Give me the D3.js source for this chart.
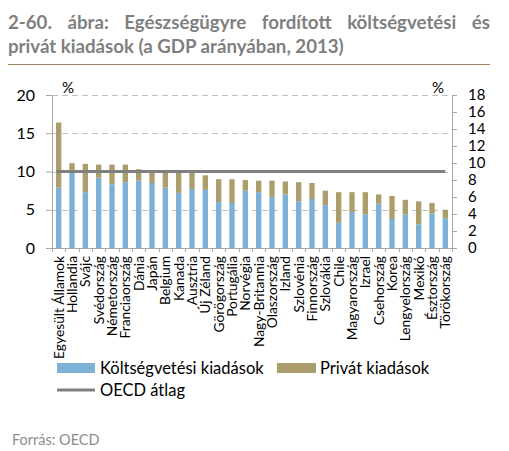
<!DOCTYPE html>
<html><head><meta charset="utf-8">
<script src="https://cdn.jsdelivr.net/npm/d3@7/dist/d3.min.js"></script>
<style>
html,body{margin:0;padding:0;background:#fff;}
svg{display:block;font-family:Lato,"Open Sans",sans-serif;}
</style></head>
<body>
<script>
const countries = ["Egyesült Államok","Hollandia","Svájc","Svédország","Németország","Franciaország","Dánia","Japán","Belgium","Kanada","Ausztria","Új Zéland","Görögország","Portugália","Norvégia","Nagy-Britannia","Olaszország","Izland","Szlovénia","Finnország","Szlovákia","Chile","Magyarország","Izrael","Csehország","Korea","Lengyelország","Mexikó","Észtország","Törökország"];
const publicSpend = [7.9,9.8,7.3,9.2,8.3,8.6,8.8,8.5,7.9,7.2,7.7,7.6,6.0,5.9,7.5,7.3,6.7,7.0,6.1,6.4,5.6,3.3,4.7,4.4,5.8,3.8,4.4,3.1,4.5,3.9];
const privateSpend = [8.5,1.3,3.7,1.7,2.6,2.3,1.5,1.7,2.3,2.7,2.3,1.9,3.0,3.1,1.4,1.5,2.1,1.7,2.5,2.1,1.9,4.0,2.6,2.9,1.2,3.0,1.9,3.0,1.4,1.1];
const oecdAvg = 9.0; // right axis
const leftTicks = [0,5,10,15,20];
const rightTicks = [0,2,4,6,8,10,12,14,16,18];
const seriesNames = ["Költségvetési kiadások","Privát kiadások","OECD átlag"];
const titleLine1 = "2-60. ábra: Egészségügyre fordított költségvetési és";
const titleLine2 = "privát kiadások (a GDP arányában, 2013)";

const W = 509, H = 451;
const svg = d3.select("body").append("svg").attr("width",W).attr("height",H);
const colBlue = "#7cb0d6", colTan = "#ab9e6c", colLine = "#808080";

// title
const title = svg.append("g").attr("fill","#7f7f7f").attr("font-weight","bold");
const t2 = title.append("text").attr("x",8).attr("y",53).attr("font-size",16).text(titleLine2);
const fs = 16 * 336 / t2.node().getComputedTextLength();
t2.attr("font-size",fs);
// justify line 1 by word spacing
const words = titleLine1.split(" ");
const tmp = words.map(w=>title.append("text").attr("font-size",fs).attr("y",29).text(w));
const widths = tmp.map(t=>t.node().getComputedTextLength());
const gap = (482 - d3.sum(widths)) / (words.length-1);
let cx = 8;
tmp.forEach((t,i)=>{ t.attr("x",cx); cx += widths[i] + gap; });
svg.append("line").attr("x1",8).attr("x2",490).attr("y1",64.5).attr("y2",64.5).attr("stroke","#9e8262").attr("stroke-width",1.2);

const x0 = 52, x1 = 452, yTop = 95, yBot = 248;
const x = d3.scaleBand().domain(countries).range([x0,x1]).paddingInner(0.6).paddingOuter(0.3);
const yL = d3.scaleLinear().domain([0,20]).range([yBot,yTop]);
const yR = d3.scaleLinear().domain([0,18]).range([yBot,yTop]);

// gridlines
svg.append("g").selectAll("line").data(leftTicks.filter(d=>d>0)).join("line")
  .attr("x1",x0).attr("x2",x1).attr("y1",d=>Math.round(yL(d))+0.5).attr("y2",d=>Math.round(yL(d))+0.5)
  .attr("stroke","#bfbfbf").attr("stroke-width",1).attr("stroke-dasharray","6,4");

// bars
const data = countries.map((c,i)=>({c, pub:publicSpend[i], priv:privateSpend[i]}));
svg.append("g").selectAll("rect").data(data).join("rect")
  .attr("x",d=>x(d.c)).attr("width",x.bandwidth())
  .attr("y",d=>yL(d.pub)).attr("height",d=>yL(0)-yL(d.pub)).attr("fill",colBlue);
svg.append("g").selectAll("rect").data(data).join("rect")
  .attr("x",d=>x(d.c)).attr("width",x.bandwidth())
  .attr("y",d=>yL(d.pub+d.priv)).attr("height",d=>yL(d.pub)-yL(d.pub+d.priv)).attr("fill",colTan);

// OECD line
const first = countries[0], last = countries[countries.length-1];
svg.append("line").attr("x1",x(first)+x.bandwidth()/2-2).attr("x2",x(last)+x.bandwidth()/2)
  .attr("y1",yR(oecdAvg)).attr("y2",yR(oecdAvg)).attr("stroke",colLine).attr("stroke-width",3);

// axes
const axisCol = "#a6a6a6";
const gl = svg.append("g").attr("transform",`translate(${x0},0)`)
  .call(d3.axisLeft(yL).tickValues(leftTicks).tickSize(6).tickPadding(11));
const gr = svg.append("g").attr("transform",`translate(${x1},0)`)
  .call(d3.axisRight(yR).tickValues(rightTicks).tickSize(5).tickPadding(11));
[gl,gr].forEach(g=>{
  g.select(".domain").attr("stroke",axisCol);
  g.selectAll(".tick line").attr("stroke",axisCol);
  g.selectAll(".tick text").attr("fill","#000").attr("font-family","Lato,sans-serif");
});
gl.selectAll(".tick text").attr("font-size",16);
gr.selectAll(".tick text").attr("font-size",15);

// bottom axis with boundary ticks
const gb = svg.append("g").attr("transform",`translate(0,${yBot})`);
gb.append("line").attr("x1",x0).attr("x2",x1).attr("y1",0.5).attr("y2",0.5).attr("stroke",axisCol);
gb.selectAll("line.tk").data(d3.range(countries.length+1)).join("line").attr("class","tk")
  .attr("x1",i=>Math.round(x0+i*(x1-x0)/countries.length)+0.5).attr("x2",i=>Math.round(x0+i*(x1-x0)/countries.length)+0.5)
  .attr("y1",0).attr("y2",4).attr("stroke",axisCol);
gb.selectAll("text").data(countries).join("text")
  .attr("transform",d=>`translate(${x(d)+x.bandwidth()/2},8) rotate(-90)`)
  .attr("text-anchor","end").attr("dy","0.35em").attr("font-size",13.8).attr("fill","#000")
  .text(d=>d);

// % labels
svg.append("text").attr("x",62).attr("y",93).attr("font-size",15).text("%");
svg.append("text").attr("x",432).attr("y",93).attr("font-size",15).text("%");

// legend
const lg = svg.append("g").attr("font-size",16.5).attr("fill","#000");
lg.append("rect").attr("x",57).attr("y",363).attr("width",38).attr("height",10).attr("fill",colBlue);
lg.append("text").attr("x",100).attr("y",374).text(seriesNames[0]);
lg.append("rect").attr("x",277).attr("y",363).attr("width",39).attr("height",10).attr("fill",colTan);
lg.append("text").attr("x",320).attr("y",374).text(seriesNames[1]);
lg.append("line").attr("x1",57).attr("x2",95).attr("y1",390).attr("y2",390).attr("stroke",colLine).attr("stroke-width",3);
lg.append("text").attr("x",100).attr("y",396).text(seriesNames[2]);

// footer
svg.append("text").attr("x",12).attr("y",445).attr("font-size",14.5).attr("fill","#8c8c8c").text("Forrás: OECD");
</script>
</body></html>
